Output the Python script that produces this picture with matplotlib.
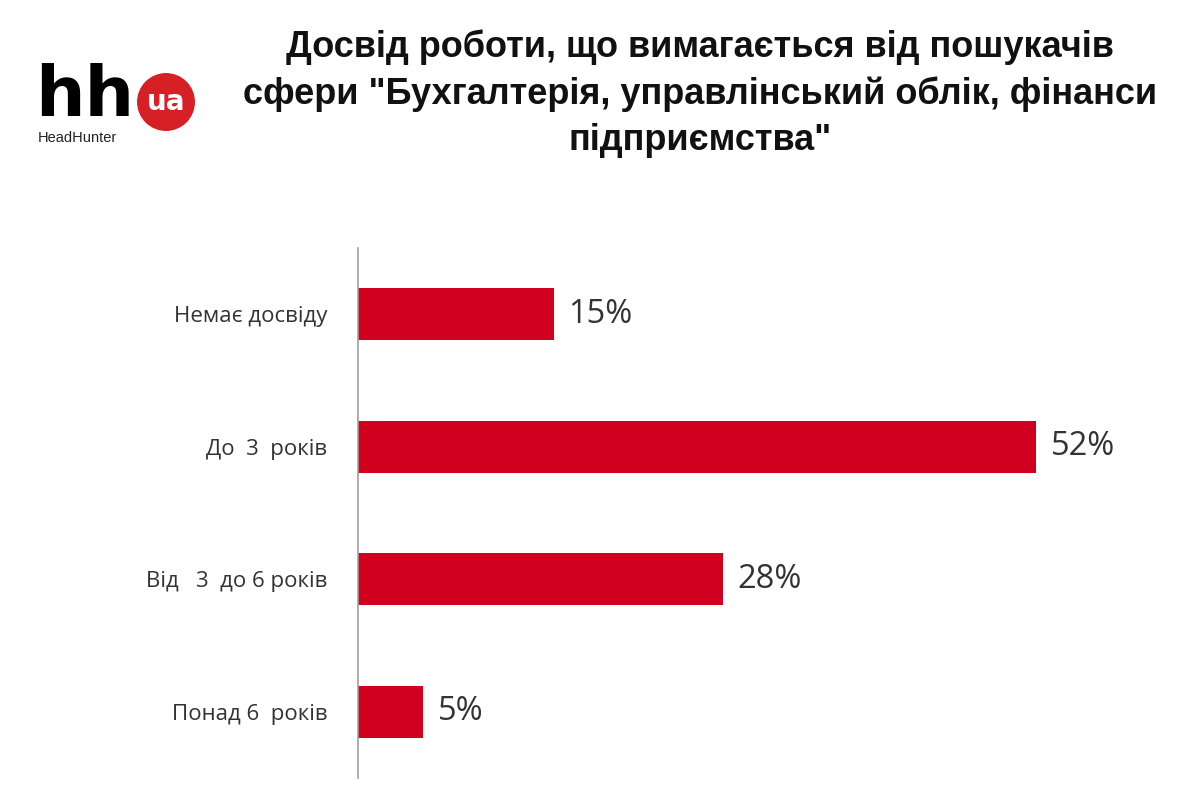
import matplotlib.pyplot as plt

plt.rcParams['font.family'] = ['Liberation Sans', 'DejaVu Sans']

# Data
categories = ["Немає досвіду", "До  3  років", "Від   3  до 6 років", "Понад 6  років"]
values = [15, 52, 28, 5]
title = 'Досвід роботи, що вимагається від пошукачів\nсфери "Бухгалтерія, управлінський облік, фінанси\nпідприємства"'

red = "#d1001f"

fig = plt.figure(figsize=(12, 7.95), dpi=100)
ax = fig.add_axes([358 / 1200, 1 - 778 / 795, (1180 - 358) / 1200, 530 / 795])

y = range(len(categories))
ax.barh(y, values, height=0.39, color=red)
ax.set_xlim(0, 63)
ax.set_ylim(3.5, -0.5)
ax.set_yticks(list(y))
ax.set_yticklabels(categories, fontsize=16, color="#333333", family=["Open Sans", "DejaVu Sans"])
ax.tick_params(axis="y", length=0, pad=22)
ax.set_xticks([])
for side in ["top", "right", "bottom"]:
    ax.spines[side].set_visible(False)
ax.spines["left"].set_color("#a0a0a0")
ax.spines["left"].set_linewidth(1.2)

for i, v in enumerate(values):
    ax.text(v + 1.1, i, f"{v}%", va="center", ha="left", fontsize=23.5,
            color="#333333", family=["Open Sans", "DejaVu Sans"])

fig.text(700 / 1200, 1 - 29 / 795, title, ha="center", va="top", fontsize=26,
         fontweight="bold", color="#111111", linespacing=1.42)

# logo
fig.text(35 / 1200, 1 - 116 / 795, "hh", fontsize=50, fontweight="bold",
         color="black", family=["DejaVu Sans"], ha="left", va="baseline")
fig.text(166 / 1200, 1 - 102 / 795, "ua", fontsize=20, fontweight="bold",
         color="white", ha="center", va="center", family=["DejaVu Sans"],
         bbox=dict(boxstyle="circle,pad=0.35", fc="#d71f26", ec="none"))
fig.text(38 / 1200, 1 - 142 / 795, "HeadHunter", fontsize=10.5,
         color="#222222", ha="left", va="baseline", family=["Liberation Sans"])

fig.savefig("out.png", dpi=100)
